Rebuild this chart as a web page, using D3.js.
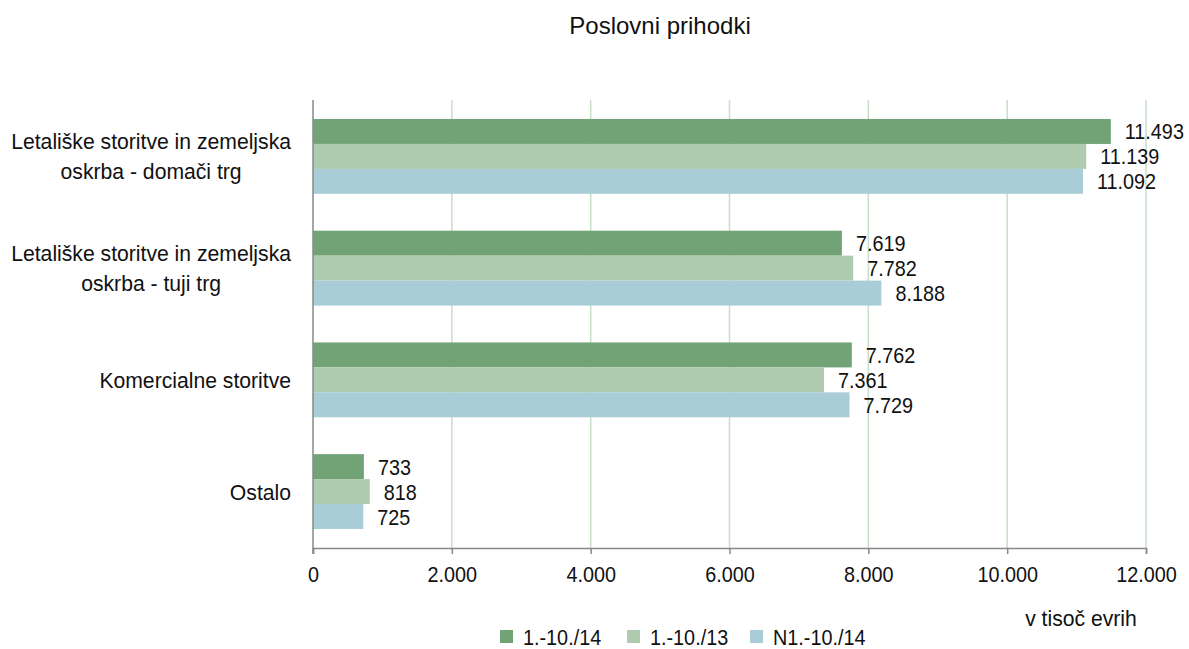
<!DOCTYPE html>
<html>
<head>
<meta charset="utf-8">
<script src="https://cdn.jsdelivr.net/npm/d3@7"></script>
<style>
  body { margin: 0; background: #fff; }
  text { font-family: "Liberation Sans", Arial, sans-serif; fill: #111; }
</style>
</head>
<body>
<svg id="chart" width="1189" height="649"></svg>
<script>
// DATA
var categories = [
    ['Letališke storitve in zemeljska', 'oskrba - domači trg'],
    ['Letališke storitve in zemeljska', 'oskrba - tuji trg'],
    ['Komercialne storitve'],
    ['Ostalo']
];
var seriesNames = ['1.-10./14', '1.-10./13', 'N1.-10./14'];
var values14 = [11493, 7619, 7762, 733];
var values13 = [11139, 7782, 7361, 818];
var valuesN14 = [11092, 8188, 7729, 725];
var xTicks = [0, 2000, 4000, 6000, 8000, 10000, 12000];
var colors = ['#71a376', '#afcbaf', '#a8cdd6'];

var allSeries = [values14, values13, valuesN14];

var svg = d3.select('#chart');
// note: "top" is taken by window.top, so use plot* names
var plotLeft = 313, plotRight = 1146, plotTop = 100, plotBottom = 548;
var fontSize = '22.5px';

var fmt = function(v){
    // slovenian thousands separator
    return d3.format(',')(v).replace(/,/g, '.');
};

// squeeze text horizontally (works on text or tspan nodes)
// reference font is a bit narrower than Liberation Sans
function condense(sel, ratio){
    sel.each(function(){
        var len = this.getComputedTextLength();
        d3.select(this).attr('textLength', len * ratio).attr('lengthAdjust', 'spacingAndGlyphs');
    });
}

var x = d3.scaleLinear().domain([0, 12000]).range([plotLeft, plotRight]);
var y = d3.scaleBand().domain(d3.range(categories.length)).range([plotTop, plotBottom]).paddingInner(0.33).paddingOuter(0.17);
var ySub = d3.scaleBand().domain(d3.range(seriesNames.length)).range([0, y.bandwidth()]);

// title
svg.append('text').attr('x', 660).attr('y', 34).attr('text-anchor', 'middle')
    .style('font-size', '24px').text('Poslovni prihodki');

// gridlines
svg.append('g').selectAll('line').data(xTicks.slice(1)).enter().append('line')
    .attr('x1', function(d){ return x(d); }).attr('x2', function(d){ return x(d); })
    .attr('y1', plotTop).attr('y2', plotBottom)
    .attr('stroke', '#c6dfc6').attr('stroke-width', 1.5);

// bars
var groups = svg.append('g').selectAll('g').data(categories).enter().append('g')
    .attr('transform', function(d, i){ return 'translate(0,' + y(i) + ')'; });

groups.each(function(cat, ci){
    var g = d3.select(this);
    allSeries.forEach(function(vals, si){
        g.append('rect')
            .attr('x', x(0)).attr('y', ySub(si))
            .attr('width', x(vals[ci]) - x(0)).attr('height', ySub.bandwidth())
            .attr('fill', colors[si]);
        var lbl = g.append('text')
            .attr('x', x(vals[ci]) + 14).attr('y', ySub(si) + ySub.bandwidth() / 2 + 8)
            .style('font-size', fontSize).text(fmt(vals[ci]));
        condense(lbl, 0.88);
    });
});

// category labels (centered lines, block right aligned)
var catSqueeze = 0.94;
groups.each(function(cat, ci){
    var g = d3.select(this);
    var lineH = 30;
    var t = g.append('text').style('font-size', fontSize).attr('text-anchor', 'middle');
    var startY = y.bandwidth() / 2 - (cat.length - 1) * lineH / 2 + 8;
    cat.forEach(function(line, li){
        t.append('tspan').attr('y', startY + li * lineH).text(line);
    });
    var w = 0;
    t.selectAll('tspan').each(function(){ w = Math.max(w, this.getComputedTextLength()); });
    condense(t.selectAll('tspan'), catSqueeze);
    t.selectAll('tspan').attr('x', 291 - w * catSqueeze / 2);
});

// x axis
var xAxis = d3.axisBottom(x).tickValues(xTicks).tickSize(6).tickFormat(fmt);
var ax = svg.append('g').attr('transform', 'translate(0,' + plotBottom + ')').call(xAxis);
ax.select('.domain').attr('stroke', '#888').attr('stroke-width', 1.5);
ax.selectAll('.tick line').attr('stroke', '#888').attr('stroke-width', 1.5);
ax.selectAll('.tick text').style('font-size', fontSize).attr('fill', '#111').attr('dy', '1.1em')
    .style('font-family', null);
condense(ax.selectAll('.tick text'), 0.88);

// y axis line
svg.append('line').attr('x1', plotLeft).attr('x2', plotLeft).attr('y1', plotTop).attr('y2', plotBottom + 6)
    .attr('stroke', '#888').attr('stroke-width', 1.5);

// unit label
var unit = svg.append('text').attr('x', 1081).attr('y', 626).attr('text-anchor', 'middle')
    .style('font-size', fontSize).text('v tisoč evrih');
condense(unit, 0.94);

// legend
var legendX = [500, 627, 750];
var legend = svg.append('g').selectAll('g').data(seriesNames).enter().append('g')
    .attr('transform', function(d, i){ return 'translate(' + legendX[i] + ',630)'; });
legend.append('rect').attr('width', 13).attr('height', 13).attr('fill', function(d, i){ return colors[i]; });
var legText = legend.append('text').attr('x', 23).attr('y', 15).style('font-size', fontSize).text(function(d){ return d; });
condense(legText, 0.88);
</script>
</body>
</html>
